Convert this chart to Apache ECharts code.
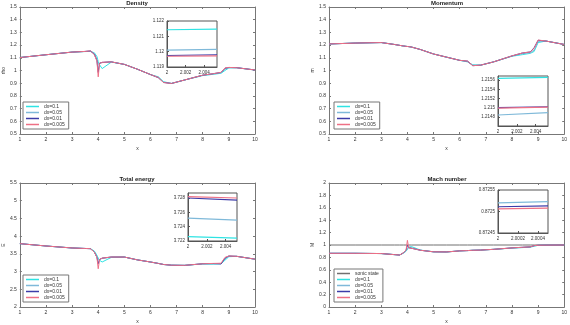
<!DOCTYPE html>
<html><head><meta charset="utf-8">
<script src="https://cdn.jsdelivr.net/npm/echarts@6/dist/echarts.min.js"></script>
<style>html,body{margin:0;padding:0;background:#fff}#c{width:570px;height:325px}</style>
</head><body><div id="c"></div>
<script>
// ---------- data ----------
const X = [1, 2, 3, 3.5, 3.7, 3.85, 3.95, 4.0, 4.05, 4.15, 4.5, 5, 5.5, 6, 6.3, 6.5, 6.8, 7.3, 8, 8.4, 8.7, 8.85, 9, 9.3, 10];
const names = ['dx=0.1', 'dx=0.05', 'dx=0.01', 'dx=0.005'];
const sonicName = 'sonic state';

// Density
const rho_d1   = [1.102,1.124,1.145,1.149,1.150,1.140,1.110,1.070,1.045,1.015,1.066,1.048,1.010,0.968,0.950,0.912,0.898,0.925,0.960,0.970,0.978,1.000,1.020,1.022,1.004];
const rho_d05  = [1.102,1.124,1.145,1.150,1.152,1.135,1.090,1.050,1.040,1.062,1.068,1.048,1.010,0.968,0.948,0.908,0.898,0.925,0.963,0.972,0.982,1.010,1.022,1.022,1.004];
const rho_d01  = [1.102,1.124,1.145,1.150,1.154,1.128,1.078,0.985,1.058,1.064,1.068,1.048,1.010,0.968,0.943,0.906,0.898,0.925,0.963,0.975,0.985,1.018,1.024,1.022,1.004];
const rho_d005 = [1.102,1.124,1.145,1.150,1.155,1.125,1.075,0.950,1.055,1.064,1.068,1.048,1.010,0.968,0.945,0.905,0.898,0.925,0.963,0.975,0.985,1.020,1.024,1.022,1.004];
// Momentum
const m_d1   = [1.209,1.216,1.220,1.205,1.198,1.193,1.190,1.189,1.188,1.185,1.165,1.130,1.105,1.080,1.068,1.045,1.042,1.068,1.112,1.125,1.135,1.150,1.220,1.232,1.205];
const m_d05  = [1.209,1.216,1.220,1.205,1.198,1.193,1.190,1.189,1.188,1.185,1.165,1.130,1.105,1.080,1.070,1.042,1.042,1.068,1.114,1.132,1.140,1.160,1.228,1.232,1.205];
const m_d01  = [1.209,1.216,1.220,1.205,1.198,1.193,1.190,1.189,1.188,1.185,1.165,1.130,1.105,1.080,1.074,1.038,1.042,1.068,1.115,1.138,1.146,1.180,1.238,1.232,1.205];
const m_d005 = [1.209,1.216,1.220,1.205,1.198,1.193,1.190,1.189,1.188,1.185,1.165,1.130,1.105,1.080,1.074,1.038,1.042,1.068,1.115,1.138,1.146,1.175,1.240,1.232,1.205];
// Total energy
const E_d1   = [3.788,3.722,3.666,3.652,3.647,3.580,3.460,3.380,3.320,3.270,3.400,3.410,3.330,3.270,3.230,3.200,3.180,3.175,3.215,3.210,3.220,3.320,3.420,3.430,3.350];
const E_d05  = [3.788,3.722,3.666,3.652,3.647,3.560,3.420,3.330,3.300,3.370,3.410,3.410,3.330,3.270,3.230,3.200,3.180,3.175,3.220,3.225,3.230,3.360,3.430,3.430,3.350];
const E_d01  = [3.788,3.722,3.666,3.652,3.647,3.550,3.400,3.220,3.340,3.380,3.410,3.410,3.330,3.270,3.230,3.200,3.180,3.175,3.220,3.225,3.215,3.380,3.440,3.430,3.350];
const E_d005 = [3.788,3.722,3.666,3.652,3.647,3.550,3.400,3.080,3.340,3.380,3.410,3.410,3.330,3.270,3.230,3.200,3.180,3.175,3.220,3.230,3.235,3.400,3.440,3.430,3.350];
// Mach number
const M_sonic = [1,1,1,1,1,1,1,1,1,1,1,1,1,1,1,1,1,1,1,1,1,1,1,1,1];
const M_d1   = [0.866,0.866,0.862,0.845,0.838,0.868,0.900,0.930,0.960,0.975,0.918,0.890,0.888,0.905,0.910,0.915,0.918,0.930,0.950,0.958,0.965,0.980,0.994,0.998,1.000];
const M_d05  = [0.866,0.866,0.862,0.845,0.838,0.872,0.912,0.940,0.970,0.955,0.915,0.890,0.888,0.905,0.910,0.915,0.918,0.930,0.952,0.960,0.968,0.986,0.995,0.998,1.000];
const M_d01  = [0.866,0.866,0.862,0.845,0.838,0.875,0.920,1.000,0.955,0.948,0.915,0.890,0.888,0.905,0.910,0.915,0.918,0.930,0.953,0.963,0.970,0.990,0.996,0.998,1.000];
const M_d005 = [0.866,0.866,0.862,0.845,0.838,0.875,0.920,1.075,0.955,0.948,0.915,0.890,0.888,0.905,0.910,0.915,0.918,0.930,0.953,0.963,0.970,0.990,0.996,0.998,1.000];

// Insets (zoom near x = 2)
const XI_rho = [2, 2.0054];
const rhoI_d1 = [1.12143, 1.12147], rhoI_d05 = [1.1201, 1.12015], rhoI_d01 = [1.11975, 1.1198], rhoI_d005 = [1.1197, 1.11973];
const XI_m = [2, 2.0053];
const mI_d1 = [1.21564, 1.21566], mI_d05 = [1.21484, 1.21489], mI_d01 = [1.21500, 1.21502], mI_d005 = [1.21499, 1.21501];
const XI_E = [2, 2.0052];
const EI_d1 = [3.7226, 3.7224], EI_d05 = [3.7252, 3.7249], EI_d01 = [3.7280, 3.7277], EI_d005 = [3.7282, 3.7280];
const XI_M = [2, 2.0005];
const MI_d05 = [0.87252, 0.872523], MI_d01 = [0.872511, 0.872513], MI_d005 = [0.872506, 0.872508];

// ---------- styling ----------
const FONT = 'Liberation Sans';
const colors = {'dx=0.1':'#2ee3e3','dx=0.05':'#7fb9d9','dx=0.01':'#3c3ca8','dx=0.005':'#ee7085','sonic state':'#707070'};
const AX = '#777';

const grids = [], xAxes = [], yAxes = [], series = [], graphics = [], legends = [];

function zip(xs, ys){ return xs.map((x,i)=>[x, ys[i]]); }

function addMain(rect, yr, xname, yname, ygap, title){
  grids.push(Object.assign({show:false}, rect));
  const gi = grids.length - 1;
  const base = {gridIndex:gi, type:'value',
    axisLine:{show:true, onZero:false, lineStyle:{color:AX, width:1}},
    axisTick:{show:true, inside:true, length:2, lineStyle:{color:AX}},
    splitLine:{show:false}};
  const xi = xAxes.length;
  xAxes.push(Object.assign({}, base, {position:'bottom', min:1, max:10, interval:1,
    name:xname, nameLocation:'middle', nameGap:12, nameTextStyle:{fontSize:5, color:'#333', fontFamily:FONT},
    axisLabel:{fontSize:5, color:'#333', fontFamily:FONT, margin:3}}));
  xAxes.push(Object.assign({}, base, {position:'top', min:1, max:10, interval:1, axisLabel:{show:false}}));
  const yi = yAxes.length;
  yAxes.push(Object.assign({}, base, {position:'left', min:yr[0], max:yr[1], interval:yr[2],
    name:yname, nameLocation:'middle', nameGap:ygap, nameRotate:90, nameTextStyle:{fontSize:5, color:'#333', fontFamily:FONT},
    axisLabel:{fontSize:5, color:'#333', fontFamily:FONT, margin:3}}));
  yAxes.push(Object.assign({}, base, {position:'right', min:yr[0], max:yr[1], interval:yr[2], axisLabel:{show:false}}));
  graphics.push({type:'text', x: rect.left + rect.width/2, y: rect.top - 7,
    style:{text:title, textAlign:'center', font:'bold 6px ' + FONT, fill:'#222'}});
  return {xi, yi};
}

function addInset(rect, xr, yr, opt){
  opt = opt || {};
  grids.push(Object.assign({show:true, borderColor:'#555', borderWidth:1, backgroundColor:'#fff'}, rect));
  const gi = grids.length - 1;
  const base = {gridIndex:gi, type:'value',
    axisLine:{show:true, onZero:false, lineStyle:{color:'#555', width:1}},
    axisTick:{show:true, inside:true, length:2, lineStyle:{color:'#555'}},
    splitLine:{show:false}};
  const xi = xAxes.length;
  xAxes.push(Object.assign({}, base, {min:xr[0], max:xr[1], interval:xr[2],
    axisLabel:{fontSize:4.5, color:'#333', fontFamily:FONT, margin:3, showMaxLabel:false}}));
  const yi = yAxes.length;
  yAxes.push(Object.assign({}, base, {min:yr[0], max:yr[1], interval:yr[2],
    axisLabel:{fontSize:4.5, color:'#333', fontFamily:FONT, margin:3,
      showMinLabel: !opt.hideMin, showMaxLabel: !opt.hideMax}}));
  return {xi, yi};
}

function addLine(ax, name, xs, ys, w){
  series.push({type:'line', name, xAxisIndex:ax.xi, yAxisIndex:ax.yi, data:zip(xs, ys),
    symbol:'none', showSymbol:false, clip:true, animation:false,
    lineStyle:{color:colors[name], width:w || 1}, itemStyle:{color:colors[name]}});
}

function addLegend(left, top, data){
  legends.push({orient:'vertical', left, top, data, selectedMode:false,
    icon:'rect', itemWidth:13, itemHeight:1.5, itemGap:1,
    padding:[2,4,2,3], borderColor:'#777', borderWidth:1, backgroundColor:'#fff',
    textStyle:{fontSize:5, color:'#333', fontFamily:FONT, lineHeight:5}});
}

// Density
let a = addMain({left:19, top:7, width:236, height:127}, [0.5, 1.5, 0.1], 'x', 'rho', 13, 'Density');
addLine(a, 'dx=0.1', X, rho_d1); addLine(a, 'dx=0.05', X, rho_d05); addLine(a, 'dx=0.01', X, rho_d01); addLine(a, 'dx=0.005', X, rho_d005);
addLegend(23, 102, names);
let b = addInset({left:167, top:21, width:50, height:46}, [2, 2.0054, 0.002], [1.119, 1.122, 0.001]);
addLine(b, 'dx=0.1', XI_rho, rhoI_d1, 1.2); addLine(b, 'dx=0.05', XI_rho, rhoI_d05, 1.2); addLine(b, 'dx=0.01', XI_rho, rhoI_d01, 1.2); addLine(b, 'dx=0.005', XI_rho, rhoI_d005, 1.2);

// Momentum
a = addMain({left:329, top:7, width:236, height:127}, [0.5, 1.5, 0.1], 'x', 'm', 14, 'Momentum');
addLine(a, 'dx=0.1', X, m_d1); addLine(a, 'dx=0.05', X, m_d05); addLine(a, 'dx=0.01', X, m_d01); addLine(a, 'dx=0.005', X, m_d005);
addLegend(334, 102, names);
b = addInset({left:498, top:76, width:50, height:50}, [2, 2.0053, 0.002], [1.2146, 1.21569, 0.0002], {hideMin:true, hideMax:true});
addLine(b, 'dx=0.1', XI_m, mI_d1, 1.2); addLine(b, 'dx=0.05', XI_m, mI_d05, 1.2); addLine(b, 'dx=0.01', XI_m, mI_d01, 1.2); addLine(b, 'dx=0.005', XI_m, mI_d005, 1.2);

// Total energy
a = addMain({left:19, top:183, width:236, height:124}, [2, 5.5, 0.5], 'x', 'E', 11, 'Total energy');
addLine(a, 'dx=0.1', X, E_d1); addLine(a, 'dx=0.05', X, E_d05); addLine(a, 'dx=0.01', X, E_d01); addLine(a, 'dx=0.005', X, E_d005);
addLegend(23, 275, names);
b = addInset({left:188, top:193, width:49, height:48}, [2, 2.0052, 0.002], [3.722, 3.7287, 0.002], {hideMax:true});
addLine(b, 'dx=0.1', XI_E, EI_d1, 1.2); addLine(b, 'dx=0.05', XI_E, EI_d05, 1.2); addLine(b, 'dx=0.01', XI_E, EI_d01, 1.2); addLine(b, 'dx=0.005', XI_E, EI_d005, 1.2);

// Mach number
a = addMain({left:329, top:183, width:236, height:124}, [0, 2, 0.2], 'x', 'M', 14, 'Mach number');
addLine(a, 'sonic state', X, M_sonic);
addLine(a, 'dx=0.1', X, M_d1); addLine(a, 'dx=0.05', X, M_d05); addLine(a, 'dx=0.01', X, M_d01); addLine(a, 'dx=0.005', X, M_d005);
addLegend(334, 269, [sonicName].concat(names));
b = addInset({left:498, top:190, width:50, height:43}, [2, 2.0005, 0.0002], [0.87245, 0.87255, 0.00005]);
addLine(b, 'dx=0.05', XI_M, MI_d05, 1.2); addLine(b, 'dx=0.01', XI_M, MI_d01, 1.2); addLine(b, 'dx=0.005', XI_M, MI_d005, 1.2);

const chart = echarts.init(document.getElementById('c'), null, {renderer:'canvas'});
chart.setOption({
  animation:false,
  backgroundColor:'#fff',
  grid:grids, xAxis:xAxes, yAxis:yAxes, legend:legends, series,
  graphic:graphics
});
</script></body></html>
